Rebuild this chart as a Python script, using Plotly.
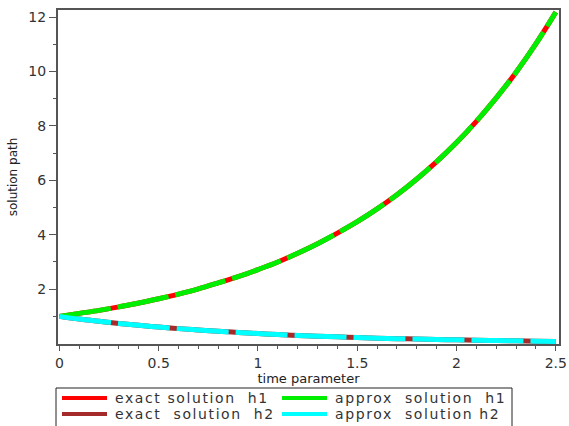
import plotly.graph_objects as go

t = [0.0, 0.1, 0.2, 0.3, 0.4, 0.5, 0.6, 0.7, 0.8, 0.9, 1.0, 1.1, 1.2,
     1.3, 1.4, 1.5, 1.6, 1.7, 1.8, 1.9, 2.0, 2.1, 2.2, 2.3, 2.4, 2.5]
exact_h1 = [1.00, 1.11, 1.22, 1.35, 1.49, 1.65, 1.82, 2.01, 2.23, 2.46, 2.72, 3.00, 3.32,
            3.67, 4.06, 4.48, 4.95, 5.47, 6.05, 6.69, 7.39, 8.17, 9.03, 9.97, 11.02, 12.18]
approx_h1 = [1.00, 1.11, 1.22, 1.35, 1.49, 1.65, 1.82, 2.01, 2.23, 2.46, 2.72, 3.00, 3.32,
             3.67, 4.06, 4.48, 4.95, 5.47, 6.05, 6.69, 7.39, 8.17, 9.03, 9.97, 11.02, 12.18]
exact_h2 = [1.00, 0.90, 0.82, 0.74, 0.67, 0.61, 0.55, 0.50, 0.45, 0.41, 0.37, 0.33, 0.30,
            0.27, 0.25, 0.22, 0.20, 0.18, 0.17, 0.15, 0.14, 0.12, 0.11, 0.10, 0.09, 0.08]
approx_h2 = [1.00, 0.90, 0.82, 0.74, 0.67, 0.61, 0.55, 0.50, 0.45, 0.41, 0.37, 0.33, 0.30,
             0.27, 0.25, 0.22, 0.20, 0.18, 0.17, 0.15, 0.14, 0.12, 0.11, 0.10, 0.09, 0.08]

x_ticks = [0, 0.5, 1, 1.5, 2, 2.5]
x_tick_labels = ["0", "0.5", "1", "1.5", "2", "2.5"]
y_ticks = [2, 4, 6, 8, 10, 12]
y_tick_labels = ["2", "4", "6", "8", "10", "12"]
y_minor = [1, 3, 5, 7, 9, 11]

names = ["exact solution  h1", "approx  solution  h1", "exact  solution  h2", "approx  solution h2"]
colors = ["#ff0000", "#00ee00", "#a52a2a", "#00ffff"]

FONT = "DejaVu Sans"
fig = go.Figure()
dash = "52px,7px"
# exact curves drawn underneath; approx curves on top with short gaps
fig.add_trace(go.Scatter(x=t, y=exact_h1, mode="lines", name=names[0],
                         line=dict(color=colors[0], width=5, shape="spline")))
fig.add_trace(go.Scatter(x=t, y=exact_h2, mode="lines", name=names[2],
                         line=dict(color=colors[2], width=5, shape="spline")))
fig.add_trace(go.Scatter(x=t, y=approx_h1, mode="lines", name=names[1],
                         line=dict(color=colors[1], width=5, dash=dash, shape="spline")))
fig.add_trace(go.Scatter(x=t, y=approx_h2, mode="lines", name=names[3],
                         line=dict(color=colors[3], width=5, dash=dash, shape="spline")))

# ---- boxed two-column legend below the plot (paper coordinates) ----
L, R, TOP, BOT = 58, 559, 10, 344          # plot-area pixel frame
def px(xp): return (xp - L) / (R - L)
def py(yp): return (BOT - yp) / (BOT - TOP)

shapes = [dict(type="rect", xref="paper", yref="paper",
               x0=px(56), x1=px(512), y0=py(388), y1=py(432),
               line=dict(color="#222", width=1), fillcolor="white", layer="above")]
annotations = []
col_x = [62, 282]
row_y = [398, 414]
for i, (nm, c) in enumerate(zip(names, colors)):
    cx = col_x[i % 2]
    ry = row_y[i // 2]
    shapes.append(dict(type="line", xref="paper", yref="paper",
                       x0=px(cx), x1=px(cx + 45), y0=py(ry), y1=py(ry),
                       line=dict(color=c, width=4), layer="above"))
    annotations.append(dict(xref="paper", yref="paper", x=px(cx + 51), y=py(ry),
                            xanchor="left", yanchor="middle", showarrow=False,
                            text='<span style="letter-spacing:1.6px">' + nm + '</span>',
                            font=dict(family=FONT, size=14, color="#333")))

fig.update_layout(
    width=569, height=426,
    margin=dict(l=L, r=569 - R, t=TOP, b=426 - BOT, autoexpand=False),
    paper_bgcolor="white", plot_bgcolor="white",
    font=dict(family=FONT, size=13, color="#222"),
    showlegend=False,
    shapes=shapes, annotations=annotations,
)
fig.update_xaxes(
    range=[-0.007, 2.516], showgrid=False, zeroline=False,
    showline=True, linecolor="#555", linewidth=2, mirror=True,
    tickmode="array", tickvals=x_ticks, ticktext=x_tick_labels,
    ticks="outside", ticklen=5, tickcolor="#555", tickwidth=1,
    tickfont=dict(size=14, color="#333"),
    minor=dict(dtick=0.1, tick0=0, ticks="outside", ticklen=3, tickcolor="#555"),
    title=dict(text="time parameter", standoff=0, font=dict(size=13, color="#222")),
)
fig.update_yaxes(
    range=[-0.015, 12.26], showgrid=False, zeroline=False,
    showline=True, linecolor="#555", linewidth=2, mirror=True,
    tickmode="array", tickvals=y_ticks, ticktext=y_tick_labels,
    ticks="outside", ticklen=7, tickcolor="#555", tickwidth=1,
    tickfont=dict(size=14, color="#333"),
    minor=dict(tickmode="array", tickvals=y_minor, ticks="outside", ticklen=3, tickcolor="#555"),
    title=dict(text="solution path", standoff=8, font=dict(size=12, color="#222")),
)

fig.write_html("out.html", config={"displayModeBar": False},
               post_script="document.body.style.margin='0';document.body.style.overflow='hidden';")
